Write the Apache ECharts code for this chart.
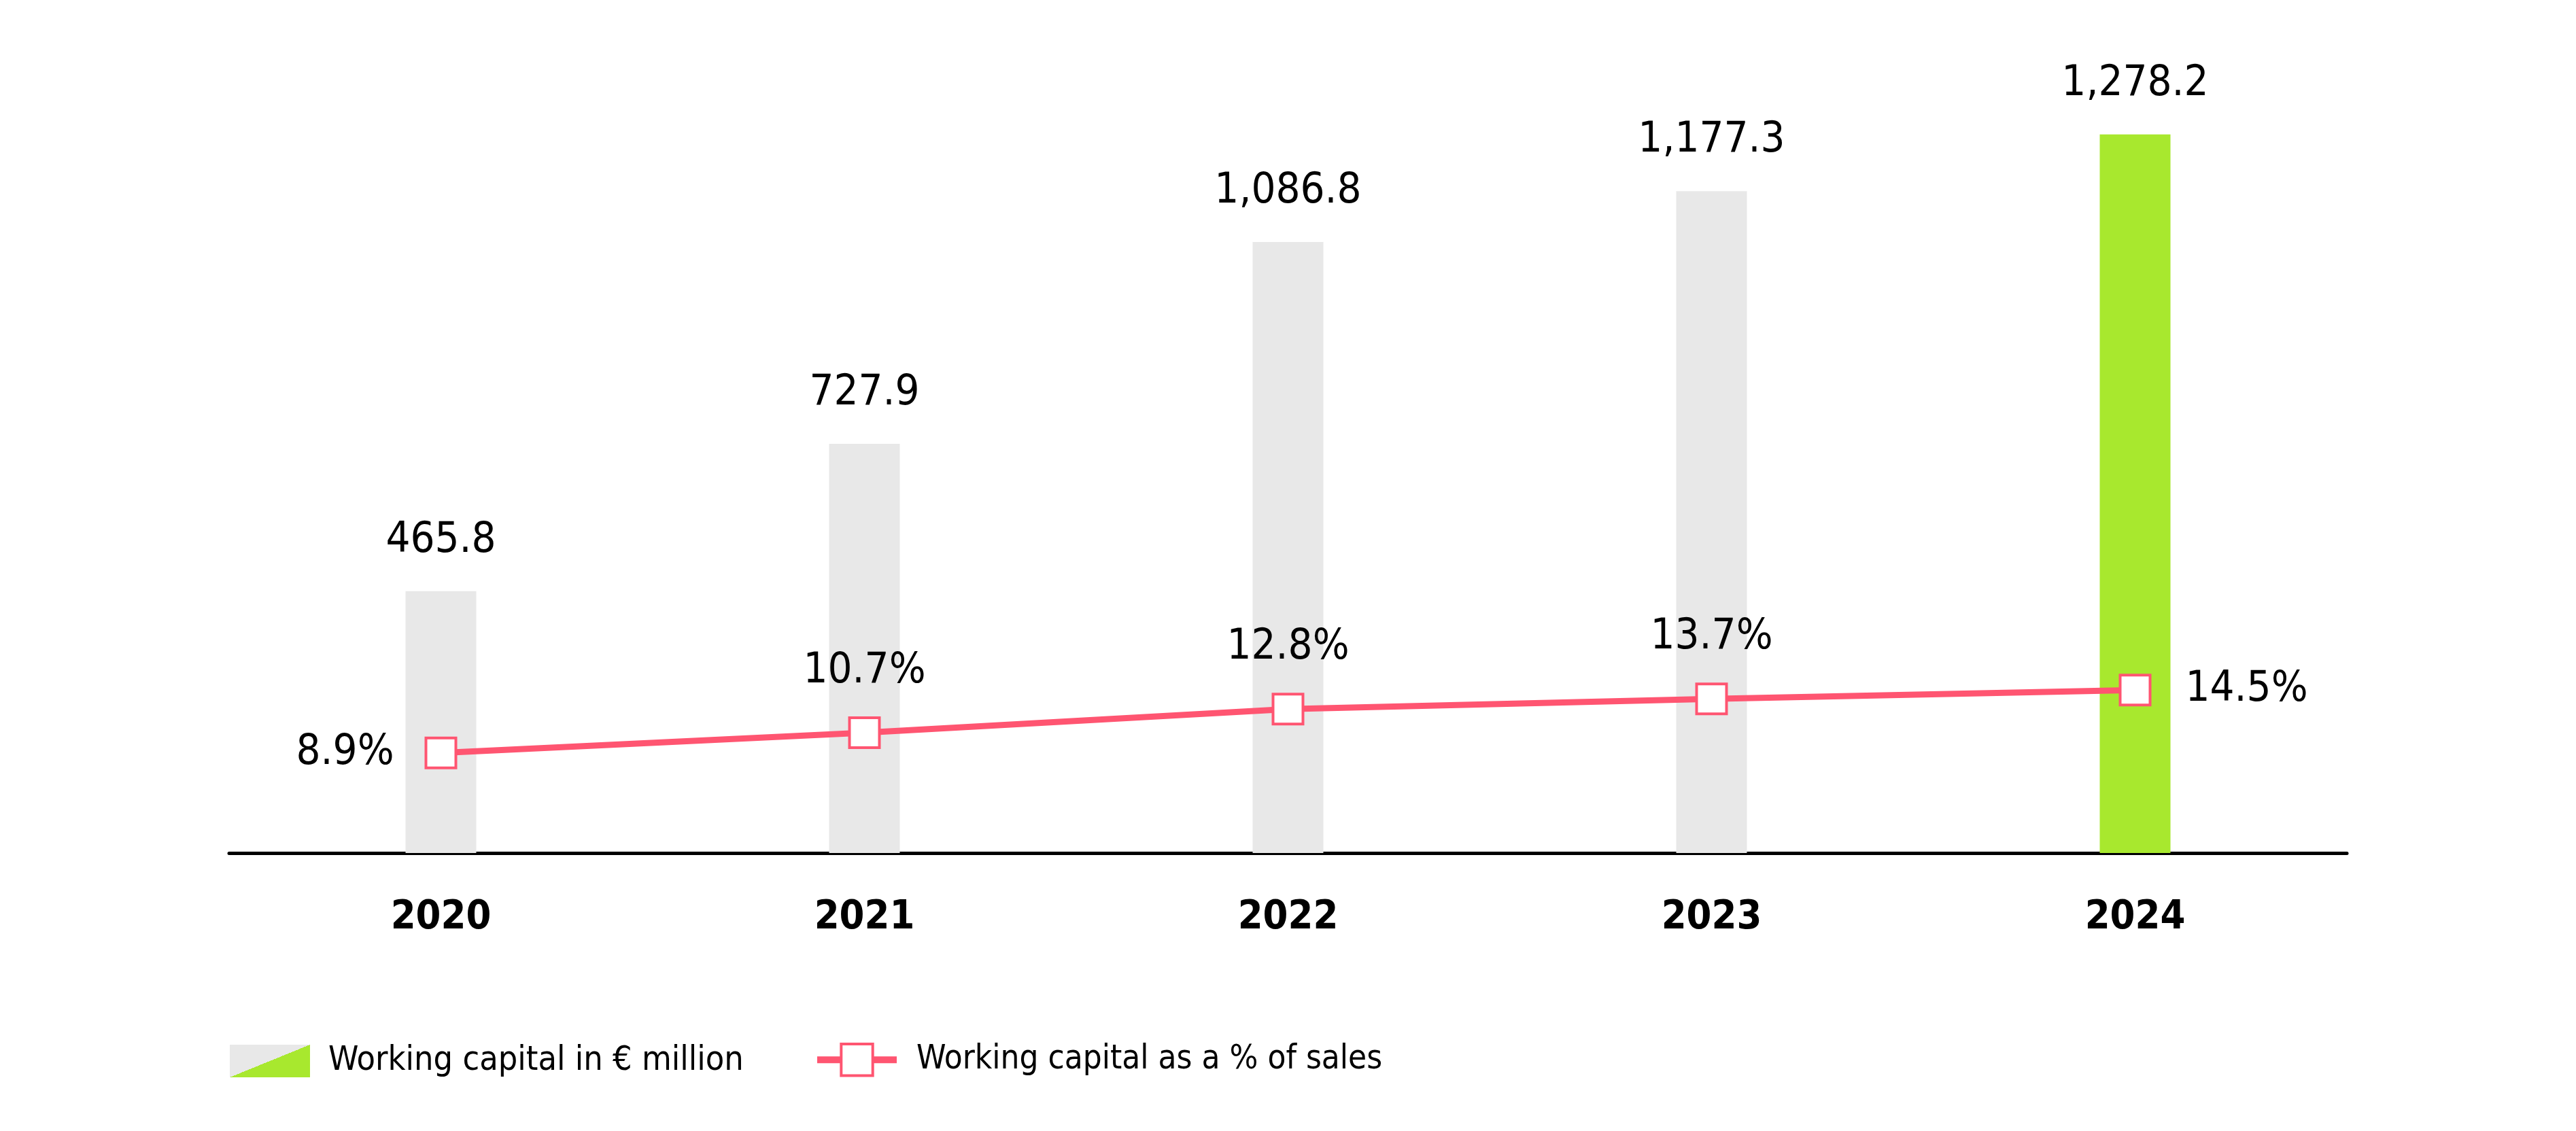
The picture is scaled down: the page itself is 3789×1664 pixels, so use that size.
<!DOCTYPE html>
<html>
<head>
<meta charset="utf-8">
<script src="https://cdn.jsdelivr.net/npm/echarts@6/dist/echarts.min.js"></script>
<style>
html,body{margin:0;padding:0;background:#fff;}
#chart{width:3789px;height:1664px;}
</style>
</head>
<body>
<div id="chart"></div>
<script>
const years = ['2020', '2021', '2022', '2023', '2024'];
const workingCapital = [465.8, 727.9, 1086.8, 1177.3, 1278.2];
const workingCapitalPct = [8.9, 10.7, 12.8, 13.7, 14.5];
const barName = 'Working capital in € million';
const lineName = 'Working capital as a % of sales';

const GRAY = '#E8E8E8';
const GREEN = '#A8E82E';
const PINK = '#FF5571';
const FONT = 'DejaVu Sans Condensed';

function fmtNum(v) {
  return v.toLocaleString('en-US', {minimumFractionDigits: 1, maximumFractionDigits: 1});
}

const barData = workingCapital.map((v, i) => ({
  value: v,
  itemStyle: {color: i === workingCapital.length - 1 ? GREEN : GRAY}
}));

const lastIdx = workingCapitalPct.length - 1;
const lineData = workingCapitalPct.map((v, i) => {
  let pos = 'top', dist = 35;
  if (i === 0) { pos = 'left'; dist = 45; }
  if (i === lastIdx) { pos = 'right'; dist = 50; }
  return {value: v, label: {position: pos, distance: dist}};
});

// diagonal split icon: isoline along the top-right -> bottom-left diagonal
const IW = 118, IH = 48;
const ga = 0.4 * IH / IW, gb = 0.4 * IW / IH;
const splitGradient = new echarts.graphic.LinearGradient(
  0.5 - ga / 2, 0.5 - gb / 2, 0.5 + ga / 2, 0.5 + gb / 2, [
    {offset: 0, color: GRAY},
    {offset: 0.5, color: GRAY},
    {offset: 0.5, color: GREEN},
    {offset: 1, color: GREEN}
  ]);

const chart = echarts.init(document.getElementById('chart'), null, {renderer: 'canvas'});
chart.setOption({
  animation: false,
  backgroundColor: '#fff',
  grid: {left: 337, right: 337, top: 97, bottom: 409, containLabel: false},
  legend: [
    {
      left: 338,
      top: 1536,
      padding: 0,
      itemWidth: IW,
      itemHeight: IH,
      selectedMode: false,
      textStyle: {fontFamily: FONT, fontSize: 50, color: '#000', padding: [0, 0, 0, 22]},
      data: [{name: barName, icon: 'rect', itemStyle: {color: splitGradient}}]
    },
    {
      left: 1197,
      top: 1534,
      padding: 0,
      itemWidth: 117,
      itemHeight: 58,
      selectedMode: false,
      textStyle: {fontFamily: FONT, fontSize: 49, color: '#000', padding: [0, 0, 0, 24]},
      lineStyle: {width: 10, color: PINK},
      itemStyle: {color: '#fff', borderColor: PINK, borderWidth: 4},
      data: [{name: lineName}]
    }
  ],
  xAxis: {
    type: 'category',
    data: years,
    boundaryGap: true,
    axisLine: {show: true, lineStyle: {color: '#000', width: 5}},
    axisTick: {show: false},
    axisLabel: {fontFamily: FONT, fontSize: 59, fontWeight: 'bold', color: '#000', margin: 66}
  },
  yAxis: [
    {type: 'value', min: 0, max: 1400, show: false, splitLine: {show: false}},
    {type: 'value', min: 0, max: 70, show: false, splitLine: {show: false}}
  ],
  series: [
    {
      name: barName,
      type: 'bar',
      data: barData,
      barWidth: 104,
      itemStyle: {color: GRAY},
      label: {
        show: true,
        position: 'top',
        distance: 43,
        fontFamily: FONT,
        fontSize: 63,
        color: '#000',
        formatter: p => fmtNum(p.value)
      },
      z: 2
    },
    {
      name: lineName,
      type: 'line',
      yAxisIndex: 1,
      data: lineData,
      symbol: 'rect',
      symbolSize: 44,
      lineStyle: {color: PINK, width: 9},
      itemStyle: {color: '#fff', borderColor: PINK, borderWidth: 4},
      label: {
        show: true,
        fontFamily: FONT,
        fontSize: 63,
        color: '#000',
        formatter: p => fmtNum(p.value) + '%'
      },
      z: 5
    }
  ]
});
</script>
</body>
</html>
